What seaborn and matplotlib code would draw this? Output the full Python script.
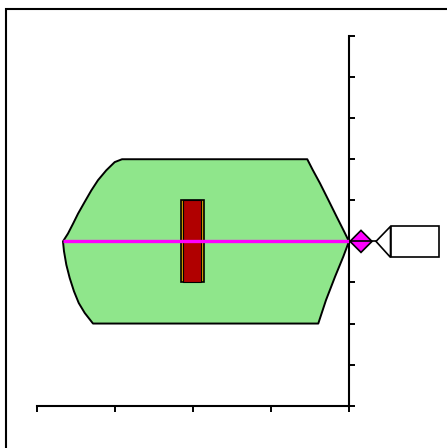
import numpy as np
import matplotlib
matplotlib.use("Agg")
import matplotlib.pyplot as plt
import seaborn as sns
from matplotlib.patches import Polygon, Rectangle
from matplotlib.transforms import Affine2D

# ---------------- data ----------------
x_ticks = [0, 1, 2, 3, 4]
y_ticks = [0, 1, 2, 3, 4, 5, 6, 7, 8, 9]
category_pos = 2
sample = [2, 3, 4, 5, 6]          # min, q1, median, q3, max
# violin outline (left half, top -> bottom)
left_y = [6.0, 5.93, 5.73, 5.49, 5.24, 4.96, 4.675, 4.43, 4.19, 4.0,
          3.76, 3.43, 3.11, 2.785, 2.5, 2.257, 2.0]
left_x = [1.09, 0.996, 0.888, 0.782, 0.696, 0.611, 0.526, 0.462, 0.397, 0.333,
          0.346, 0.376, 0.419, 0.474, 0.535, 0.612, 0.718]
# right half, bottom -> top
right_y = [2.0, 2.57, 3.14, 3.63, 4.0, 4.28, 4.6, 5.01, 5.415, 5.74, 6.0]
right_x = [3.606, 3.705, 3.821, 3.927, 4.0, 3.927, 3.842, 3.735, 3.628, 3.535, 3.465]

green = "#8FE68B"
gold = "#D4A000"
red = "#B00000"
magenta = "#FF00FF"

sns.set_theme(style="white")
plt.rcParams['font.family'] = ['DejaVu Sans']

fig = plt.figure(figsize=(4.47, 4.48), dpi=100)
ax = fig.add_axes([37 / 447, (448 - 405.7) / 448, 312 / 447, (405.7 - 36) / 448])

# violin body
poly_x = left_x + right_x
poly_y = left_y + right_y
ax.fill(poly_x, poly_y, facecolor=green, edgecolor="black", linewidth=1.4,
        joinstyle="round", zorder=1)

# box (outer gold, inner red) from the quartiles
q1, median, q3 = np.percentile(sample, [25, 50, 75])
ax.bar(category_pos - 0.01, q3 - q1, bottom=q1, width=0.30, color=gold,
       edgecolor="black", linewidth=1.2, zorder=2)
ax.bar(category_pos - 0.01, q3 - q1, bottom=q1, width=0.227, color=red,
       edgecolor="black", linewidth=0.8, zorder=2.1)

# median line across the violin
i_med = left_y.index(median)
j_med = right_y.index(median)
ax.hlines(median, left_x[i_med], right_x[j_med], colors=magenta, linewidth=2.4, zorder=3)

# axes styling
ax.set_xlim(x_ticks[0], x_ticks[-1])
ax.set_ylim(y_ticks[0], y_ticks[-1])
ax.set_xticks(x_ticks)
ax.set_yticks(y_ticks)
ax.set_xlabel("")
ax.set_ylabel("")
for s in ["left", "top"]:
    ax.spines[s].set_visible(False)
for s in ["right", "bottom"]:
    ax.spines[s].set_visible(True)
    ax.spines[s].set_color("black")
    ax.spines[s].set_linewidth(1.5)
ax.yaxis.tick_right()
ax.tick_params(axis="y", direction="out", length=4, width=1.4, colors="black",
               labelright=False, labelleft=False, right=True, left=False)
ax.tick_params(axis="x", direction="out", length=4.5, width=1.4, colors="black",
               labelbottom=False, bottom=True)
ax.set_facecolor("white")
ax.grid(False)

# median marker and label box outside the axes
fig.canvas.draw()
ax_x, ax_y = ax.transData.transform((x_ticks[-1], median))
tr = Affine2D().translate(ax_x, ax_y)
diamond = Polygon([(1, 0), (12, 11), (23, 0), (12, -11)], closed=True,
                  facecolor=magenta, edgecolor="black", linewidth=1.2, transform=tr)
fig.add_artist(diamond)
fig.add_artist(plt.Line2D([1, 27], [0, 0], color="black", linewidth=1.2, transform=tr))
tri = Polygon([(27, 0), (41.5, 15), (41.5, -16)], closed=True,
              facecolor="white", edgecolor="black", linewidth=1.2, transform=tr)
fig.add_artist(tri)
box = Rectangle((41.5, -16), 48.5, 31, facecolor="white", edgecolor="black",
                linewidth=1.2, transform=tr)
fig.add_artist(box)

# outer frame (partly outside the picture)
fig.add_artist(Rectangle((6 / 447, -0.1), 1.2, 0.1 + 439 / 448, transform=fig.transFigure,
                         fill=False, edgecolor="black", linewidth=1.5))

fig.savefig("out.png", dpi=100, facecolor="white")
